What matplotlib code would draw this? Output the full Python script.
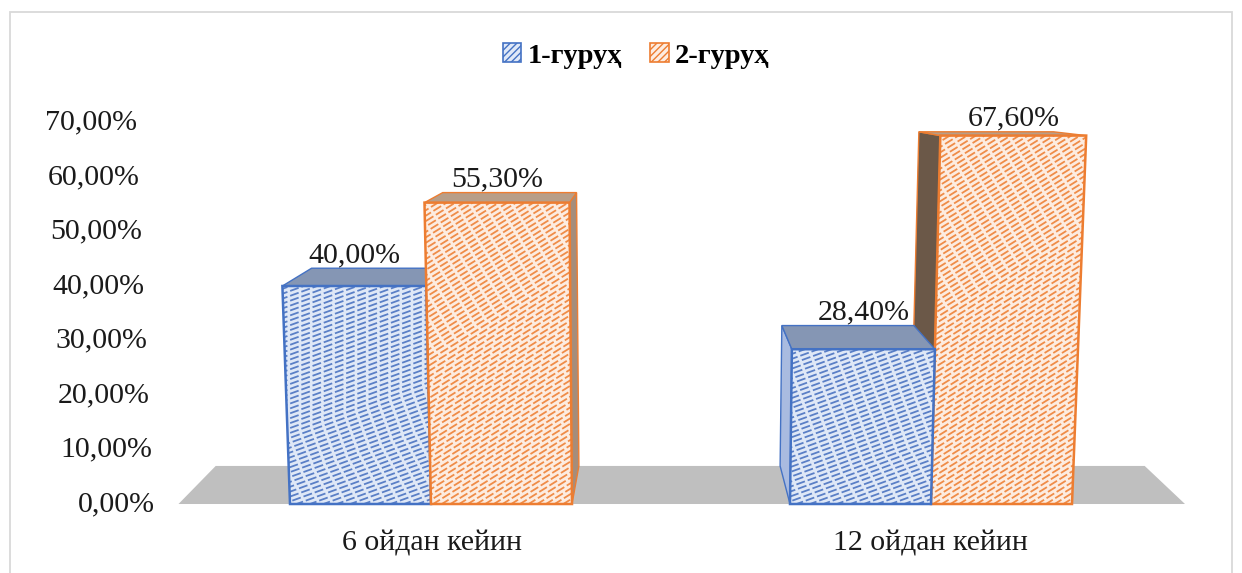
import numpy as np
import matplotlib
matplotlib.use("Agg")
import matplotlib.pyplot as plt
from matplotlib.patches import Polygon, Patch, Rectangle
from matplotlib.collections import LineCollection

# ---- data ----
categories = ["6 ойдан кейин", "12 ойдан кейин"]
series_names = ["1-гуруҳ", "2-гуруҳ"]
series_1 = [0.400, 0.284]
series_2 = [0.553, 0.676]
y_ticks = [0.0, 0.1, 0.2, 0.3, 0.4, 0.5, 0.6, 0.7]

SERIF = ["Liberation Serif", "DejaVu Serif"]
plt.rcParams["font.family"] = SERIF


def pct(v):
    return f"{v * 100:.2f}%".replace(".", ",")


# ---- pseudo-3D projection (category units, value units, depth 0..1) ----
XC = 0.461     # horizontal vanishing centre
LEAN = 0.0512  # slight spreading of verticals with height
KX = 0.077     # horizontal shrink toward the back
KY = 0.093     # vertical shrink toward the back
VV = 0.751     # vertical vanishing level
PX_X, PX_Y = 500.0, 545.0  # pixels per unit


def proj(x, v, d):
    x1 = XC + (x - XC) * (1 + LEAN * v)
    xs = x1 + d * KX * (XC - x1)
    vs = v + d * KY * (VV - v)
    return (xs, vs)


fig = plt.figure(figsize=(12.42, 5.73), dpi=100)
ax = fig.add_axes([0, 0, 1, 1])
ax.set_xlim(-0.862, 1.622)
ax.set_ylim(-0.1266, 0.9248)
ax.axis("off")

# chart-area border
fig.patches.append(Rectangle((9.5 / 1242, -0.01), (1232 - 9.5) / 1242, (573 - 11.5) / 573 + 0.01,
                             transform=fig.transFigure, fill=False, ec="#d9d9d9", lw=1.3))


def hatch_face(patch, pts, color, angle_deg, spacing_px, z):
    p = np.array(pts) * [PX_X, PX_Y]
    a = np.deg2rad(angle_deg)
    d = np.array([np.cos(a), np.sin(a)])
    n = np.array([-np.sin(a), np.cos(a)])
    offs = p @ n
    L = np.ptp(p[:, 0]) + np.ptp(p[:, 1]) + 20
    cen = p.mean(axis=0)
    segs = []
    for o in np.arange(offs.min() - spacing_px, offs.max() + spacing_px, spacing_px):
        c = cen + (o - cen @ n) * n
        a0 = (c - L * d) / [PX_X, PX_Y]
        a1 = (c + L * d) / [PX_X, PX_Y]
        segs.append([a0, a1])
    lc = LineCollection(segs, colors=color, linewidths=1.3, linestyles=(0, (5, 1.6)), zorder=z)
    lc.set_clip_path(patch)
    ax.add_collection(lc)


# ---- floor ----
floor = [proj(-0.505, 0, 0), proj(1.508, 0, 0), proj(1.508, 0, 1), proj(-0.505, 0, 1)]
ax.add_patch(Polygon(floor, closed=True, fc="#bfbfbf", ec="none", zorder=1))

# ---- bars ----
W = 0.282
styles = [
    dict(edge="#4472C4", bg="#dfe8f7", hatch="#5a7fc6", top="#8596b4", side_r="#7d8fb3",
         side_l="#a9bbe0", angle=20),
    dict(edge="#ED7D31", bg="#fdece0", hatch="#ef8c48", top="#b89e88", side_r="#a58d7b",
         side_l="#6b5848", angle=32),
]
bars = []
for gi, (v1, v2) in enumerate(zip(series_1, series_2)):
    bars.append((gi - W, gi, v1, 0))
    bars.append((gi, gi + W, v2, 1))

left = sorted([b for b in bars if (b[0] + b[1]) / 2 < XC], key=lambda b: b[0])
right = sorted([b for b in bars if (b[0] + b[1]) / 2 >= XC], key=lambda b: -b[0])

z = 2
for x0, x1, v, si in left + right:
    st = styles[si]
    on_left = (x0 + x1) / 2 < XC
    xs = x1 if on_left else x0
    side = [proj(xs, 0, 0), proj(xs, v, 0), proj(xs, v, 1), proj(xs, 0, 1)]
    side_c = st["side_r"] if on_left else st["side_l"]
    ax.add_patch(Polygon(side, closed=True, fc=side_c, ec=st["edge"], lw=1.0, zorder=z))
    top = [proj(x0, v, 0), proj(x1, v, 0), proj(x1, v, 1), proj(x0, v, 1)]
    ax.add_patch(Polygon(top, closed=True, fc=st["top"], ec=st["edge"], lw=1.0, zorder=z + 0.1))
    front = [proj(x0, 0, 0), proj(x1, 0, 0), proj(x1, v, 0), proj(x0, v, 0)]
    fp = Polygon(front, closed=True, fc=st["bg"], ec="none", zorder=z + 0.2)
    ax.add_patch(fp)
    hatch_face(fp, front, st["hatch"], st["angle"], 4.6, z + 0.3)
    ax.add_patch(Polygon(front, closed=True, fill=False, ec=st["edge"], lw=1.8, zorder=z + 0.4))
    z += 1

# value labels
for x0, x1, v, si in bars:
    xm = (x0 + x1) / 2
    tx = proj(xm, v, 0)[0]
    ty = proj(xm, v, 1)[1]
    ax.text(tx, ty, pct(v), ha="center", va="bottom", fontsize=21.5, color="#1a1a1a", zorder=50)

# value axis labels
for t in y_ticks:
    x, y = proj(-0.552, t, 0)
    ax.text(x, y, pct(t), ha="right", va="center", fontsize=21.5, color="#1a1a1a")

# category labels
for i, c in enumerate(categories):
    x, y = proj(i, -0.072, 0)
    ax.text(x, y, c, ha="center", va="center", fontsize=21.5, color="#1a1a1a")

# legend
handles = [Patch(facecolor=styles[i]["bg"], edgecolor=styles[i]["edge"], hatch="/////", lw=1.2)
           for i in range(2)]
leg = fig.legend(handles, series_names, loc="center", bbox_to_anchor=(636 / 1242, 1 - 56 / 573),
                 ncol=2, frameon=False, handlelength=0.65, handleheight=0.65, handletextpad=0.22,
                 columnspacing=1.0, prop=dict(family=SERIF, weight="bold", size=20.5))

fig.savefig("out.png", dpi=100)
